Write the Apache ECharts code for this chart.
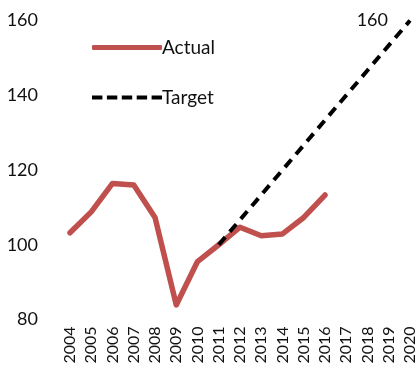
<!DOCTYPE html>
<html><head><meta charset="utf-8">
<script src="https://cdn.jsdelivr.net/npm/echarts@6/dist/echarts.min.js"></script>
<style>html,body{margin:0;padding:0;background:#fff}#c{width:418px;height:367px}</style>
</head><body><div id="c"></div>
<script>
const years = ['2004','2005','2006','2007','2008','2009','2010','2011','2012','2013','2014','2015','2016','2017','2018','2019','2020'];
const actual = [103.2,108.8,116.4,116,107.3,83.9,95.5,100,104.7,102.4,102.9,107.3,113.3,null,null,null,null];
const target = [null,null,null,null,null,null,null,100,null,null,null,null,null,null,null,null,160];
const yTicks = [80,100,120,140,160];
const FONT = 'Lato';
const dashIcon = 'path://M0,0h11v4h-11z M15.75,0h11v4h-11z M31.5,0h11v4h-11z M47.25,0h11v4h-11z M63,0h11v4h-11z';
const chart = echarts.init(document.getElementById('c'), null, {renderer:'canvas'});
chart.setOption({
  animation:false,
  textStyle:{fontFamily:FONT},
  grid:{left:70,right:4,top:20.5,bottom:47.5},
  legend:{
    orient:'vertical', left:87, top:33, itemWidth:70, itemHeight:5, itemGap:31,
    textStyle:{fontFamily:FONT,fontSize:19,color:'#111', padding:[0,0,0,-5]},
    data:[{name:'Actual',icon:'roundRect'},{name:'Target',icon:dashIcon}]
  },
  xAxis:{type:'category',data:years,boundaryGap:false,
    axisLine:{show:false},axisTick:{show:false},
    axisLabel:{rotate:90,fontSize:16,color:'#111',fontFamily:FONT,margin:7,interval:0}},
  yAxis:{type:'value',min:yTicks[0],max:yTicks[yTicks.length-1],interval:20,
    splitLine:{show:false},axisLine:{show:false},axisTick:{show:false},
    axisLabel:{fontSize:18,color:'#111',fontFamily:FONT,margin:32}},
  series:[
    {name:'Actual',type:'line',data:actual,symbol:'none',
      lineStyle:{color:'#c0504d',width:5.5,cap:'round',join:'round'},itemStyle:{color:'#c0504d'}},
    {name:'Target',type:'line',data:target,connectNulls:true,symbol:'circle',symbolSize:0.1,showSymbol:true,
      lineStyle:{color:'#000',width:4,type:[10,7]},itemStyle:{color:'#000'},
      label:{show:true,formatter:p=>p.dataIndex===years.length-1?String(p.value):'',position:'left',distance:22,fontSize:18,color:'#111',fontFamily:FONT}}
  ]
});
</script></body></html>
